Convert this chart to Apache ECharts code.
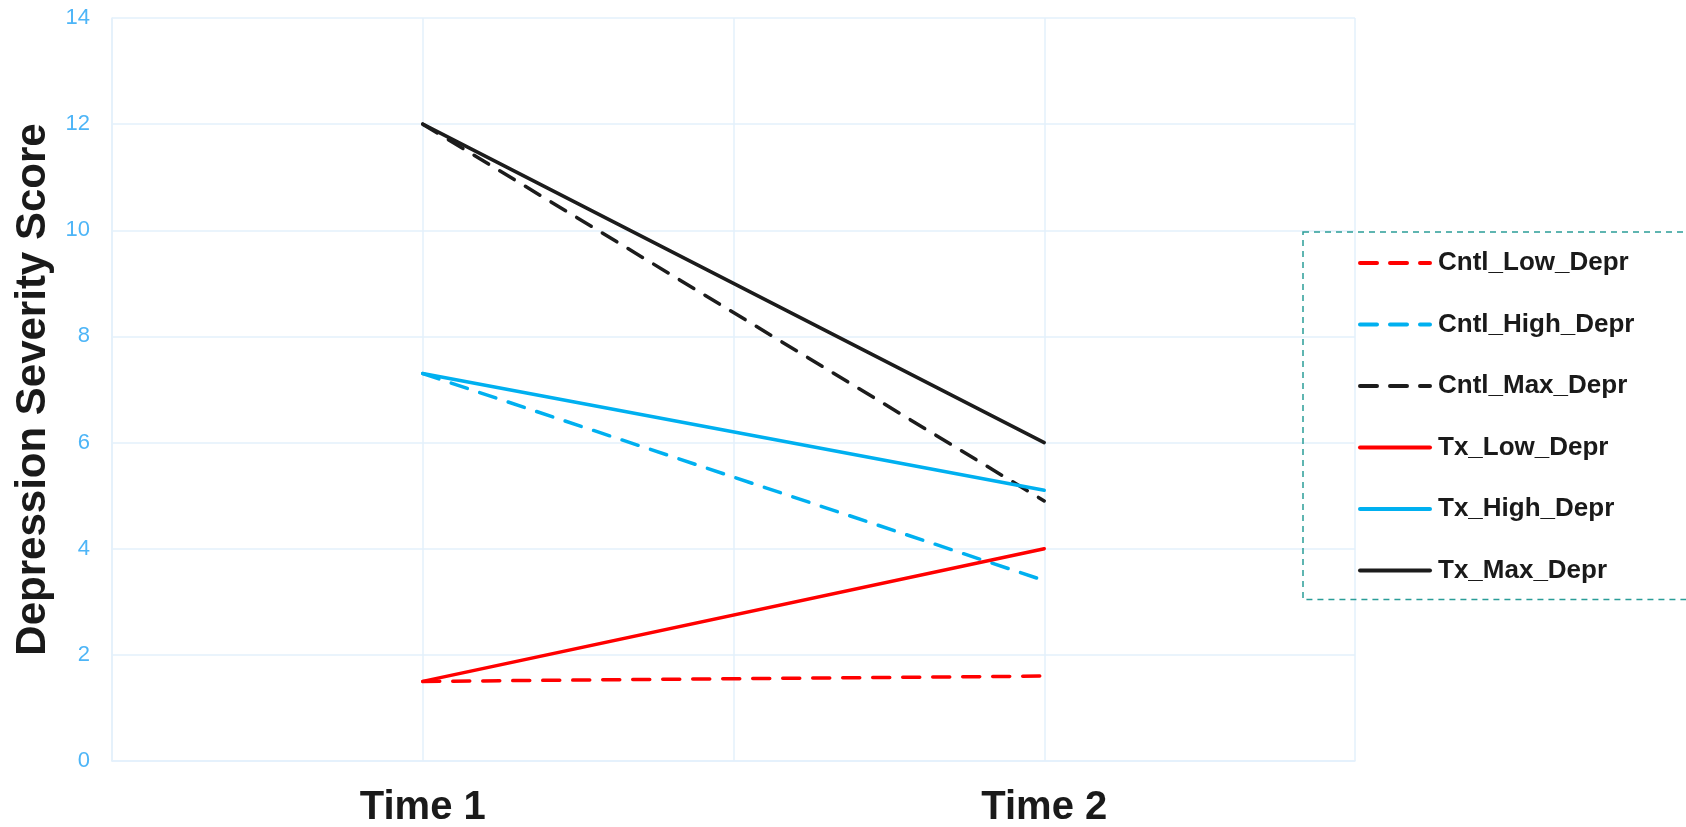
<!DOCTYPE html>
<html>
<head>
<meta charset="utf-8">
<script src="https://cdn.jsdelivr.net/npm/echarts@6/dist/echarts.min.js"></script>
<style>
html,body{margin:0;padding:0;background:#fff;}
#chart{width:1686px;height:827px;}
</style>
</head>
<body>
<div id="chart"></div>
<script>
// ---- data ----
var categories = ['Time 1', 'Time 2'];
var categoryPositions = [1, 2];
var seriesNames = ['Cntl_Low_Depr', 'Cntl_High_Depr', 'Cntl_Max_Depr', 'Tx_Low_Depr', 'Tx_High_Depr', 'Tx_Max_Depr'];
var cntlLow  = [1.5, 1.6];
var cntlHigh = [7.3, 3.4];
var cntlMax  = [12.0, 4.9];
var txLow    = [1.5, 4.0];
var txHigh   = [7.3, 5.1];
var txMax    = [12.0, 6.0];
var yTicks = [0, 2, 4, 6, 8, 10, 12, 14];

var FONT = '"Liberation Sans", Arial, sans-serif';
var RED = '#ff0000', BLUE = '#00b0f0', BLACK = '#1c1c1c';
var GRID_C = '#e3f0fb';
var DASH = [17, 13];
var seriesColors = [RED, BLUE, BLACK, RED, BLUE, BLACK];
var seriesDashed = [true, true, true, false, false, false];

function pts(vals) {
  return vals.map(function (v, i) { return [categoryPositions[i], v]; });
}
function mk(name, vals, color, dashed) {
  return {
    name: name,
    type: 'line',
    data: pts(vals),
    symbol: 'none',
    showSymbol: false,
    silent: true,
    animation: false,
    z: dashed ? 2 : 3,
    lineStyle: {
      color: color,
      width: 3.5,
      type: dashed ? DASH : 'solid',
      cap: 'round'
    },
    itemStyle: { color: color }
  };
}

var legendData = seriesNames.map(function (n, i) {
  return {
    name: n,
    itemStyle: { opacity: 0 },
    lineStyle: { color: seriesColors[i], width: 4, type: seriesDashed[i] ? DASH : 'solid', cap: 'round', opacity: 1 }
  };
});

var chart = echarts.init(document.getElementById('chart'), null, { renderer: 'canvas' });
chart.setOption({
  animation: false,
  backgroundColor: '#ffffff',
  grid: { left: 112, right: 331, top: 18, bottom: 66, containLabel: false, outerBoundsMode: 'none' },
  xAxis: {
    type: 'value',
    min: 0.5,
    max: 2.5,
    interval: 0.5,
    axisLine: { show: true, lineStyle: { color: GRID_C, width: 1.5 } },
    axisTick: { show: false },
    splitLine: { show: true, lineStyle: { color: GRID_C, width: 1.5 } },
    axisLabel: {
      margin: 27,
      fontFamily: FONT,
      fontSize: 40,
      fontWeight: 'bold',
      color: '#1a1a1a',
      showMinLabel: true,
      showMaxLabel: true,
      formatter: function (v) {
        var idx = categoryPositions.indexOf(v);
        return idx >= 0 ? categories[idx] : '';
      }
    }
  },
  yAxis: {
    type: 'value',
    min: yTicks[0],
    max: yTicks[yTicks.length - 1],
    interval: 2,
    name: 'Depression Severity Score',
    nameLocation: 'middle',
    nameGap: 53,
    nameTextStyle: { fontFamily: FONT, fontSize: 42, fontWeight: 'bold', color: '#1a1a1a' },
    axisLine: { show: true, lineStyle: { color: GRID_C, width: 1.5 } },
    axisTick: { show: false },
    splitLine: { show: true, lineStyle: { color: GRID_C, width: 1.5 } },
    axisLabel: { margin: 22, fontFamily: FONT, fontSize: 22, color: '#4db5f7' }
  },
  legend: {
    orient: 'vertical',
    left: 1303,
    top: 232,
    padding: [18, 320, 16, 55],
    itemWidth: 70,
    itemHeight: 26,
    itemGap: 35.5,
    borderColor: '#2a9d98',
    borderWidth: 1.5,
    borderType: [6, 5],
    selectedMode: false,
    itemStyle: { opacity: 0 },
    data: legendData,
    textStyle: { fontFamily: FONT, fontSize: 26, fontWeight: 'bold', color: '#1a1a1a', padding: [0, 0, 0, 3] }
  },
  series: seriesNames.map(function (n, i) {
    var vals = [cntlLow, cntlHigh, cntlMax, txLow, txHigh, txMax][i];
    return mk(n, vals, seriesColors[i], seriesDashed[i]);
  })
});
</script>
</body>
</html>
